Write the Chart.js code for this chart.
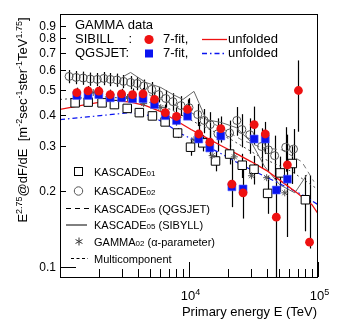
<!DOCTYPE html>
<html>
<head>
<meta charset="utf-8">
<script src="https://cdn.jsdelivr.net/npm/chart.js@4.4.1/dist/chart.umd.min.js"></script>
<style>
  html, body { margin: 0; padding: 0; background: #fff; }
  canvas { display: block; }
</style>
</head>
<body>
<canvas id="spectrum" width="339" height="336"></canvas>
<script>
// energies (TeV) of the GAMMA 7-fit bins
var fitEnergy = [1350, 1650, 2000, 2450, 3000, 3650, 4400, 5400, 6550, 8000, 9750,
  11900, 14500, 17650, 21500, 26250, 32000, 39000, 47500, 57900, 70500, 86000];
var sibyllFit = [0.488, 0.496, 0.495, 0.480, 0.483, 0.480, 0.483, 0.459, 0.407, 0.393, 0.419,
  0.335, 0.311, 0.352, 0.212, 0.196, 0.365, 0.335, 0.157, 0.253, 0.498, 0.125];
var qgsjetFit = [0.476, 0.476, 0.480, 0.466, 0.466, 0.462, 0.462, 0.438, 0.396, 0.379, 0.394,
  0.320, 0.295, 0.329, 0.207, 0.203, 0.320, 0.320, 0.201, 0.222, null, null];
var fitLow = [0.466, 0.474, 0.473, 0.459, 0.461, 0.454, 0.457, 0.431, 0.378, 0.362, 0.382,
  0.300, 0.274, 0.310, 0.172, 0.155, 0.304, 0.279, 0.090, 0.131, 0.342, 0.118];
var fitHigh = [0.511, 0.519, 0.518, 0.502, 0.506, 0.507, 0.510, 0.489, 0.438, 0.427, 0.459,
  0.374, 0.347, 0.393, 0.266, 0.246, 0.430, 0.374, 0.226, 0.333, 0.655, 0.230];

// KASCADE 2001 (open squares)
var k01Energy = [1310, 1654, 2118, 2641, 3320, 4120, 5205, 6528, 8158, 10273,
  12794, 16054, 20643, 25852, 31914, 40687, 50935, 63208, 79870];
var k01 = [0.445, 0.448, 0.445, 0.438, 0.423, 0.407, 0.395, 0.374, 0.338, 0.297,
  0.309, 0.262, 0.279, 0.252, 0.243, 0.195, 0.235, 0.256, 0.184];
var k01Err = [0.035, 0.035, 0.035, 0.035, 0.035, 0.035, 0.035, 0.035, 0.045, 0.075,
  0.075, 0.09, 0.09, 0.11, 0.13, 0.17, 0.16, 0.17, 0.25];

// KASCADE 2002 (open circles)
var k02Energy = [1176, 1334, 1513, 1716, 1946, 2187, 2458, 2763, 3106, 3524, 3961,
  4452, 5140, 5830, 6610, 7500, 8660, 10000, 11690, 13100, 14590, 16750, 20640,
  23500, 25700, 29580, 36520, 41200, 46130, 56230, 64600];
var k02 = [0.566, 0.561, 0.558, 0.553, 0.551, 0.556, 0.551, 0.548, 0.541, 0.536, 0.531,
  0.519, 0.503, 0.480, 0.463, 0.450, 0.434, 0.426, 0.400, 0.379, 0.365, 0.336, 0.338,
  0.379, 0.349, 0.333, 0.299, 0.290, 0.275, 0.297, 0.292];
var k02Err = [0.06, 0.06, 0.06, 0.06, 0.06, 0.06, 0.06, 0.06, 0.06, 0.06, 0.06,
  0.06, 0.07, 0.07, 0.08, 0.08, 0.09, 0.09, 0.10, 0.11, 0.12, 0.15, 0.12,
  0.13, 0.15, 0.16, 0.18, 0.18, 0.20, 0.20, 0.20];

// unfolded spectra
var sibUnfE = [1000, 1433, 2054, 2690, 3524, 4613, 6040, 7914, 10366, 13580,
  17783, 23290, 30500, 40000, 52340, 68550, 89760, 100000];
var sibUnf = [0.419, 0.434, 0.448, 0.454, 0.448, 0.434, 0.411, 0.379, 0.349, 0.324,
  0.301, 0.280, 0.260, 0.240, 0.217, 0.196, 0.176, 0.162];
var qgsUnfE = [1000, 2054, 3524, 5050, 6610, 8660, 12410, 17783, 25460, 36520,
  52340, 74990, 100000];
var qgsUnf = [0.382, 0.396, 0.407, 0.396, 0.368, 0.336, 0.307, 0.280, 0.253, 0.231,
  0.211, 0.193, 0.176];

// KASCADE 2005 unfolding results
var k05SibE = [3106, 3524, 4613, 6040, 7500, 8977, 10930, 13580, 17783, 23290,
  30500, 38550, 50470, 66130, 82040];
var k05Sib = [0.566, 0.587, 0.536, 0.512, 0.480, 0.459, 0.494, 0.382, 0.372, 0.355,
  0.310, 0.249, 0.211, 0.196, 0.231];
var k05QgsE = [4217, 6040, 8660, 12410, 17783, 25460, 36520, 52340, 74990, 93070];
var k05Qgs = [0.494, 0.459, 0.426, 0.389, 0.355, 0.318, 0.296, 0.290, 0.260, 0.217];

// multicomponent fit
var multiE = [1000, 2054, 4217, 7230, 12410, 21290, 36520, 62660, 100000];
var multi = [0.459, 0.471, 0.459, 0.419, 0.362, 0.318, 0.270, 0.238, 0.202];

// GAMMA 2002 (alpha-parameter)
var g02E = [1810, 2458, 3338, 4452, 6040, 8204, 10940, 15120, 22470, 30500, 40000, 55230];
var g02 = [0.489, 0.476, 0.467, 0.442, 0.426, 0.389, 0.318, 0.275, 0.272, 0.229, 0.225, 0.196];

// axis ticks
var yTicks = [0.1, 0.2, 0.3, 0.4, 0.5, 0.6, 0.7, 0.8, 0.9];
var yTickLabels = ["0.1", "0.2", "0.3", "0.4", "0.5", "0.6", "0.7", "0.8", "0.9"];
var xMinorTicks = [2000, 3000, 4000, 5000, 6000, 7000, 8000, 9000,
  20000, 30000, 40000, 50000, 60000, 70000, 80000, 90000];
var xMajorTicks = [10000, 100000];
var xMajorExp = ["4", "5"];

var FONT = '"Liberation Sans", Arial, Helvetica, sans-serif';

function pts(xs, ys) {
  var out = [];
  xs.forEach(function (x, i) {
    if (ys[i] != null) out.push({ x: x, y: ys[i] });
  });
  return out;
}
function relBand(ys, errs, sign) {
  return ys.map(function (v, i) { return v * (1 + sign * errs[i]); });
}

// vertical error bars, drawn under the markers
var errorBars = {
  id: "errorBars",
  beforeDatasetsDraw: function (chart) {
    var c = chart.ctx, xs = chart.scales.x, ys = chart.scales.y, a = chart.chartArea;
    c.save();
    c.beginPath();
    c.rect(a.left, a.top, a.right - a.left, a.bottom - a.top);
    c.clip();
    chart.data.datasets.forEach(function (ds) {
      if (!ds.errLow) return;
      c.strokeStyle = ds.errColor || "#000";
      c.lineWidth = ds.errWidth || 1.2;
      ds.data.forEach(function (p, i) {
        var x = Math.round(xs.getPixelForValue(p.x)) + 0.5;
        c.beginPath();
        c.moveTo(x, ys.getPixelForValue(ds.errLow[i]));
        c.lineTo(x, ys.getPixelForValue(ds.errHigh[i]));
        c.stroke();
      });
    });
    c.restore();
  }
};

// text with raised or shrunken pieces: parts = [[text, kind], ...]
function richWidth(c, parts, size) {
  var w = 0;
  parts.forEach(function (p) {
    c.font = (p[1] ? Math.round(size * 0.7) : size) + "px " + FONT;
    w += c.measureText(p[0]).width;
  });
  return w;
}
function drawRich(c, parts, x, y, size) {
  parts.forEach(function (p) {
    var s = p[1] ? Math.round(size * 0.7) : size;
    c.font = s + "px " + FONT;
    var dy = p[1] === "sup" ? -size * 0.42 : 0;
    c.fillText(p[0], x, y + dy);
    x += c.measureText(p[0]).width;
  });
}

// frame, inward ticks, tick labels, titles and legends
var frame = {
  id: "frame",
  afterDraw: function (chart) {
    var c = chart.ctx, xs = chart.scales.x, ys = chart.scales.y, a = chart.chartArea;
    c.save();
    c.strokeStyle = "#000";
    c.fillStyle = "#000";
    c.lineWidth = 1;
    c.strokeRect(a.left + 0.5, a.top + 0.5, a.right - a.left - 1, a.bottom - a.top);

    // y ticks
    c.font = "12px " + FONT;
    c.textAlign = "right";
    c.textBaseline = "middle";
    yTicks.forEach(function (v, i) {
      var y = Math.round(ys.getPixelForValue(v)) + 0.5;
      var len = v === 0.1 ? 16 : 6;
      c.beginPath();
      c.moveTo(a.left, y);
      c.lineTo(a.left + len, y);
      c.stroke();
      c.fillText(yTickLabels[i], a.left - 4, y);
    });

    // x ticks
    xMinorTicks.forEach(function (v) {
      var x = Math.round(xs.getPixelForValue(v)) + 0.5;
      c.beginPath();
      c.moveTo(x, a.bottom);
      c.lineTo(x, a.bottom - 8);
      c.stroke();
    });
    c.textAlign = "left";
    c.textBaseline = "alphabetic";
    xMajorTicks.forEach(function (v, i) {
      var x = Math.round(xs.getPixelForValue(v)) + 0.5;
      c.beginPath();
      c.moveTo(x, a.bottom);
      c.lineTo(x, a.bottom - 15);
      c.stroke();
      var parts = [["10", null], [xMajorExp[i], "sup"]];
      var w = richWidth(c, parts, 13);
      drawRich(c, parts, x - w / 2 + 1, a.bottom + 23, 13);
    });

    // axis titles
    c.font = "13px " + FONT;
    c.textAlign = "right";
    c.fillText("Primary energy E (TeV)", a.right - 1, 316);

    var yTitle = [["E", null], ["2.75", "sup"], ["@dF/dE  [m", null], ["-2", "sup"],
      ["sec", null], ["-1", "sup"], ["ster", null], ["-1", "sup"], ["TeV", null],
      ["1.75", "sup"], ["]", null]];
    c.save();
    c.translate(27, 120);
    c.rotate(-Math.PI / 2);
    c.textAlign = "left";
    var tw = richWidth(c, yTitle, 13);
    drawRich(c, yTitle, -tw / 2, 0, 13);
    c.restore();

    // upper legend
    c.textAlign = "left";
    c.textBaseline = "middle";
    c.font = "13px " + FONT;
    c.fillText("GAMMA data", 75, 25);
    c.fillText("SIBILL    :", 75, 39.5);
    c.fillText("QGSJET:", 75, 53.5);
    c.fillText("7-fit,", 163, 39.5);
    c.fillText("7-fit,", 163, 53.5);
    c.fillText("unfolded", 228, 39.5);
    c.fillText("unfolded", 228, 53.5);
    c.fillStyle = "#ee1111";
    c.beginPath();
    c.arc(149, 39.5, 4.6, 0, Math.PI * 2);
    c.fill();
    c.fillStyle = "#0a14f0";
    c.fillRect(145, 49.5, 8, 8);
    c.strokeStyle = "#ee1111";
    c.lineWidth = 1.3;
    c.beginPath();
    c.moveTo(202, 39.5);
    c.lineTo(227, 39.5);
    c.stroke();
    c.strokeStyle = "#0a14f0";
    c.setLineDash([5, 3, 1.5, 3]);
    c.beginPath();
    c.moveTo(202, 53.5);
    c.lineTo(227, 53.5);
    c.stroke();
    c.setLineDash([]);

    // lower legend
    c.fillStyle = "#000";
    var rows = [["KASCADE", "01", "", 172], ["KASCADE", "02", "", 191],
      ["KASCADE", "05", " (QGSJET)", 208.5], ["KASCADE", "05", " (SIBYLL)", 225],
      ["GAMMA", "02", " (\u03b1-parameter)", 241.5], ["Multicomponent", "", "", 258.5]];
    c.textBaseline = "alphabetic";
    rows.forEach(function (r) {
      drawRich(c, [[r[0], null], [r[1], "small"], [r[2], null]], 94, r[3] + 4, 11);
    });
    c.strokeStyle = "#000";
    c.lineWidth = 1;
    c.strokeRect(74.5, 167.5, 8, 8);
    c.strokeStyle = "#555";
    c.beginPath();
    c.arc(78.5, 191, 4.2, 0, Math.PI * 2);
    c.stroke();
    c.strokeStyle = "#000";
    c.setLineDash([5, 4]);
    c.beginPath();
    c.moveTo(66, 208.5);
    c.lineTo(89, 208.5);
    c.stroke();
    c.setLineDash([]);
    c.beginPath();
    c.moveTo(66, 225);
    c.lineTo(87, 225);
    c.stroke();
    c.setLineDash([3, 2.5]);
    c.beginPath();
    c.moveTo(71, 258.5);
    c.lineTo(88, 258.5);
    c.stroke();
    c.setLineDash([]);
    c.strokeStyle = "#333";
    [0, Math.PI / 3, -Math.PI / 3].forEach(function (ang) {
      c.beginPath();
      c.moveTo(79 - 4 * Math.sin(ang), 241.5 - 4 * Math.cos(ang));
      c.lineTo(79 + 4 * Math.sin(ang), 241.5 + 4 * Math.cos(ang));
      c.stroke();
    });
    c.restore();
  }
};

var ctx = document.getElementById("spectrum").getContext("2d");

var spectrumChart = new Chart(ctx, {
  type: "scatter",
  data: {
    datasets: [
      {
        // SIBILL 7-fit
        data: pts(fitEnergy, sibyllFit),
        errLow: fitLow,
        errHigh: fitHigh,
        pointStyle: "circle",
        pointRadius: 4.4,
        backgroundColor: "#ee1111",
        borderColor: "#ee1111",
        borderWidth: 0
      },
      {
        // QGSJET 7-fit
        data: pts(fitEnergy, qgsjetFit),
        pointStyle: "rect",
        pointRadius: 5.6,
        backgroundColor: "#0a14f0",
        borderColor: "#5060ff",
        borderWidth: 0.6
      },
      {
        data: pts(g02E, g02),
        pointStyle: "star",
        pointRadius: 3.5,
        borderColor: "#555",
        borderWidth: 1
      },
      {
        // KASCADE01
        data: pts(k01Energy, k01),
        errLow: relBand(k01, k01Err, -1),
        errHigh: relBand(k01, k01Err, 1),
        pointStyle: "rect",
        pointRadius: 6,
        backgroundColor: "#fff",
        borderColor: "#000",
        borderWidth: 1
      },
      {
        // KASCADE02
        data: pts(k02Energy, k02),
        errLow: relBand(k02, k02Err, -1),
        errHigh: relBand(k02, k02Err, 1),
        pointStyle: "circle",
        pointRadius: 4,
        backgroundColor: "rgba(255,255,255,0)",
        borderColor: "#555",
        borderWidth: 1
      },
      {
        // SIBILL unfolded
        data: pts(sibUnfE, sibUnf),
        showLine: true,
        pointRadius: 0,
        borderColor: "#ee1111",
        borderWidth: 1.3
      },
      {
        // QGSJET unfolded
        data: pts(qgsUnfE, qgsUnf),
        showLine: true,
        pointRadius: 0,
        borderColor: "#0a14f0",
        borderWidth: 1.2,
        borderDash: [5, 3, 1.5, 3]
      },
      {
        data: pts(k05SibE, k05Sib),
        showLine: true,
        pointRadius: 0,
        borderColor: "#666",
        borderWidth: 1
      },
      {
        data: pts(k05QgsE, k05Qgs),
        showLine: true,
        pointRadius: 0,
        borderColor: "#777",
        borderWidth: 1,
        borderDash: [5, 4]
      },
      {
        data: pts(multiE, multi),
        showLine: true,
        pointRadius: 0,
        borderColor: "#444",
        borderWidth: 1,
        borderDash: [2, 3]
      }
    ]
  },
  options: {
    responsive: false,
    animation: false,
    devicePixelRatio: 1,
    layout: { padding: { left: 60, right: 21, top: 14, bottom: 59 } },
    scales: {
      x: { type: "logarithmic", min: 1000, max: 100000, display: false },
      y: { type: "logarithmic", min: 0.091, max: 1.0, display: false }
    },
    plugins: {
      legend: { display: false },
      tooltip: { enabled: false }
    }
  },
  plugins: [errorBars, frame]
});
</script>
</body>
</html>
